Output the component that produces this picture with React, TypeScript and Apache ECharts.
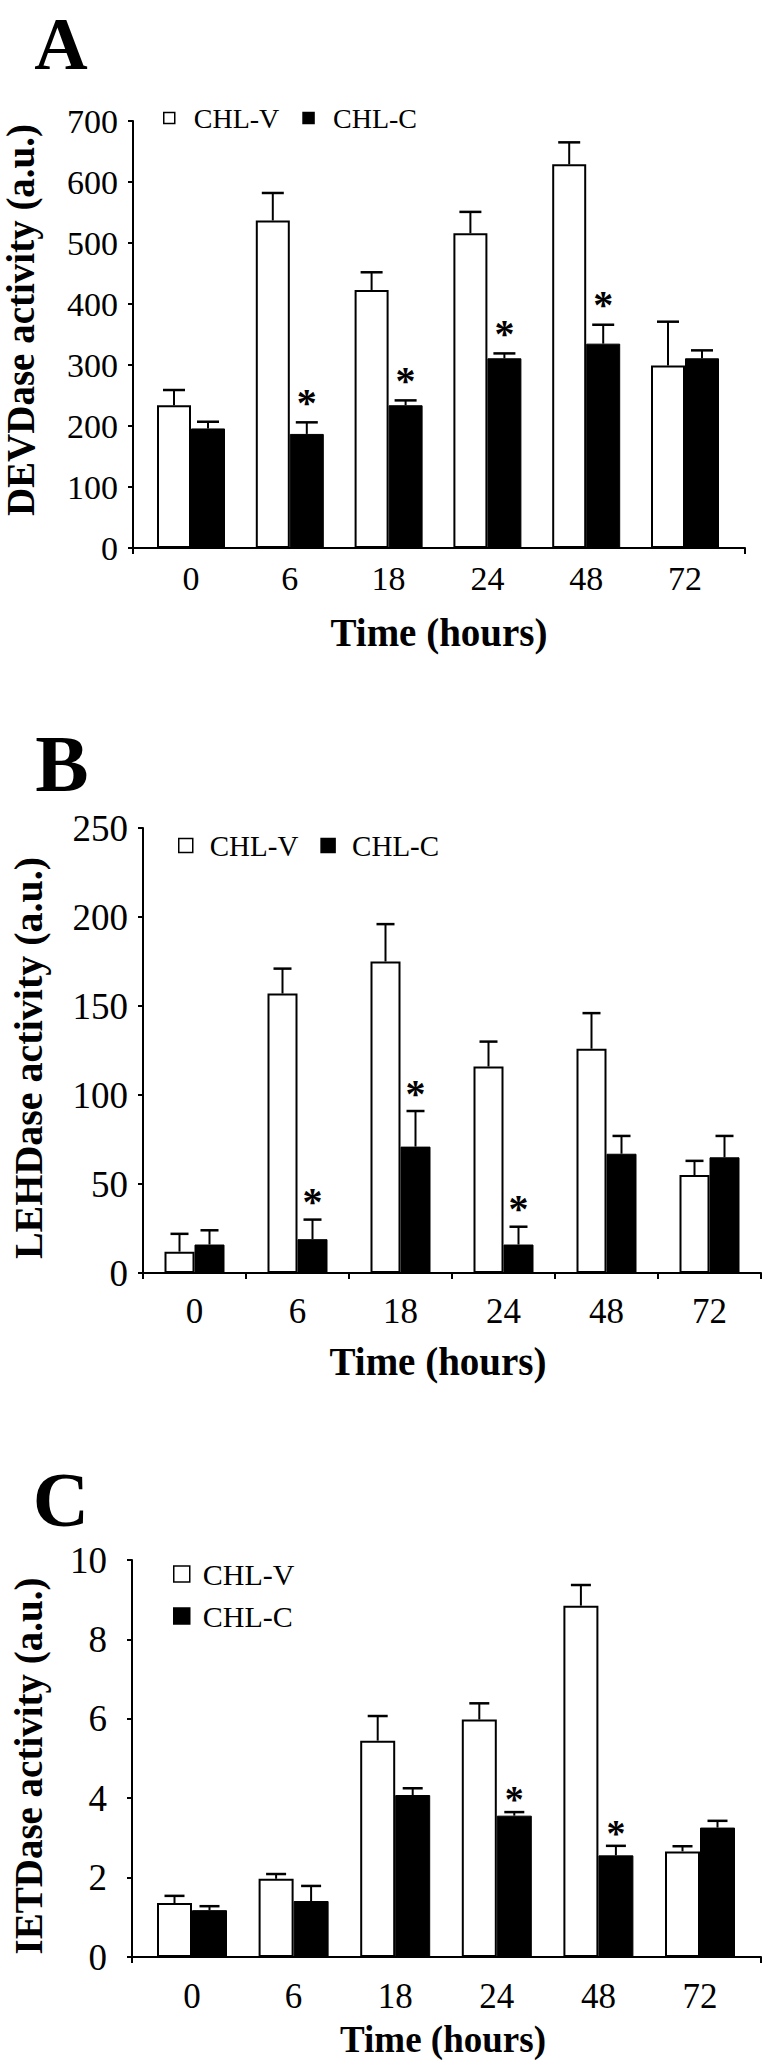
import React, { useEffect, useRef } from 'react';
import * as echarts from 'echarts';

// ---------- data ----------
const hours = ['0', '6', '18', '24', '48', '72'];
const seriesNames = ['CHL-V', 'CHL-C'];

// Panel A: DEVDase activity (a.u.)
const devdV = [234, 537, 423, 516, 629, 299];
const devdVSd = [25, 45, 29, 35, 36, 72];
const devdC = [196, 187, 234, 311, 335, 311];
const devdCSd = [11, 19, 8, 8, 31, 13];
const devdStars = [0, 1, 1, 1, 1, 0];

// Panel B: LEHDase activity (a.u.)
const lehdV = [12, 157, 175, 116, 126, 55];
const lehdVSd = [10, 14, 21, 14, 20, 8];
const lehdC = [16, 19, 71, 16, 67, 65];
const lehdCSd = [8, 11, 20, 10, 10, 12];
const lehdStars = [0, 1, 1, 1, 0, 0];

// Panel C: IETDase activity (a.u.)
const ietdV = [1.36, 1.97, 5.45, 5.98, 8.85, 2.66];
const ietdVSd = [0.18, 0.12, 0.62, 0.41, 0.52, 0.13];
const ietdC = [1.18, 1.41, 4.08, 3.56, 2.56, 3.26];
const ietdCSd = [0.1, 0.38, 0.17, 0.09, 0.24, 0.17];
const ietdStars = [0, 0, 0, 1, 1, 0];

// ---------- layout / style ----------
const FONT = "'Liberation Serif', 'Times New Roman', Times, serif";

const panels = [
  {
    letter: 'A', letterX: 61, letterY: 44, letterFont: 74,
    yTitle: 'DEVDase activity (a.u.)', yTitleX: 20, yTitleY: 320, yTitleFont: 39,
    xTitle: 'Time (hours)', xTitleX: 439, xTitleY: 632, xTitleFont: 39,
    axisGrid: { left: 133, top: 121, width: 612, height: 427 },
    dataGrid: { left: 141.6, top: 121, width: 592.8, height: 427 },
    axisTicks: [''],
    yMax: 700, yInterval: 100,
    yFont: 34, yMargin: 15, yShift: 10, xFont: 34, xMargin: 17,
    barWidth: 34, cap: 22, starFont: 40, starGap: 25,
    legend: { left: 163, top: 104, orient: 'horizontal', icon: 11, font: 28, pad: 14, gap: 23 },
    v: devdV, vSd: devdVSd, c: devdC, cSd: devdCSd, stars: devdStars,
  },
  {
    letter: 'B', letterX: 62, letterY: 764, letterFont: 80,
    yTitle: 'LEHDase activity (a.u.)', yTitleX: 28, yTitleY: 1058, yTitleFont: 40,
    xTitle: 'Time (hours)', xTitleX: 438, xTitleY: 1361, xTitleFont: 39,
    axisGrid: { left: 143, top: 828, width: 618, height: 445 },
    dataGrid: { left: 143, top: 828, width: 618, height: 445 },
    axisTicks: hours,
    yMax: 250, yInterval: 50,
    yFont: 37, yMargin: 15, yShift: 10, xFont: 35, xMargin: 25,
    barWidth: 30, cap: 18, starFont: 40, starGap: 23,
    legend: { left: 178, top: 831, orient: 'horizontal', icon: 14, font: 29, pad: 12, gap: 22 },
    v: lehdV, vSd: lehdVSd, c: lehdC, cSd: lehdCSd, stars: lehdStars,
  },
  {
    letter: 'C', letterX: 61, letterY: 1499, letterFont: 78,
    yTitle: 'IETDase activity (a.u.)', yTitleX: 28, yTitleY: 1766, yTitleFont: 39,
    xTitle: 'Time (hours)', xTitleX: 443, xTitleY: 2039, xTitleFont: 37,
    axisGrid: { left: 132, top: 1560, width: 629, height: 397 },
    dataGrid: { left: 141.2, top: 1560, width: 609.6, height: 397 },
    axisTicks: [''],
    yMax: 10, yInterval: 2,
    yFont: 37, yMargin: 25, yShift: 5, xFont: 35, xMargin: 26,
    barWidth: 35, cap: 20, starFont: 38, starGap: 18,
    legend: { left: 173, top: 1559, orient: 'vertical', icon: 16, font: 30, pad: 8, gap: 12 },
    v: ietdV, vSd: ietdVSd, c: ietdC, cSd: ietdCSd, stars: ietdStars,
  },
];

function buildOption() {
  const grid: any[] = [];
  const xAxis: any[] = [];
  const yAxis: any[] = [];
  const series: any[] = [];
  const legend: any[] = [];
  const graphic: any[] = [];

  panels.forEach((p, k) => {
    const gA = 2 * k;
    const gD = 2 * k + 1;
    grid.push({ ...p.axisGrid, containLabel: false });
    grid.push({ ...p.dataGrid, containLabel: false });

    // visible axes (lines, ticks, y labels)
    xAxis.push({
      gridIndex: gA,
      type: 'category',
      data: p.axisTicks,
      boundaryGap: true,
      axisLine: { show: true, lineStyle: { color: '#000', width: 2 } },
      axisTick: { show: true, inside: false, length: 6, lineStyle: { color: '#000', width: 2 } },
      axisLabel: { show: false },
      splitLine: { show: false },
    });
    yAxis.push({
      gridIndex: gA,
      type: 'value',
      min: 0,
      max: p.yMax,
      interval: p.yInterval,
      axisLine: { show: true, lineStyle: { color: '#000', width: 2 } },
      axisTick: { show: true, inside: false, length: 5, lineStyle: { color: '#000', width: 2 } },
      axisLabel: {
        show: true,
        color: '#000',
        fontFamily: FONT,
        fontSize: p.yFont,
        margin: p.yMargin,
        padding: [p.yShift * 2, 0, 0, 0],
      },
      splitLine: { show: false },
    });
    // data axes (bars, category labels)
    xAxis.push({
      gridIndex: gD,
      type: 'category',
      data: hours,
      boundaryGap: true,
      axisLine: { show: false },
      axisTick: { show: false },
      axisLabel: {
        show: true,
        color: '#000',
        fontFamily: FONT,
        fontSize: p.xFont,
        lineHeight: 26,
        margin: p.xMargin,
        interval: 0,
      },
      splitLine: { show: false },
    });
    yAxis.push({
      gridIndex: gD,
      type: 'value',
      min: 0,
      max: p.yMax,
      interval: p.yInterval,
      show: false,
      splitLine: { show: false },
    });

    series.push({
      type: 'bar',
      name: seriesNames[0],
      xAxisIndex: gD,
      yAxisIndex: gD,
      data: p.v,
      barWidth: p.barWidth,
      barGap: '0%',
      itemStyle: { color: '#fff', borderColor: '#000', borderWidth: 2 },
      z: 2,
    });
    series.push({
      type: 'bar',
      name: seriesNames[1],
      xAxisIndex: gD,
      yAxisIndex: gD,
      data: p.c,
      barWidth: p.barWidth,
      barGap: '0%',
      itemStyle: { color: '#000', borderColor: '#000', borderWidth: 1 },
      z: 2,
    });

    const makeErr = (vals: number[], sds: number[], stars: number[] | null, side: number, nm: string) => ({
      type: 'custom',
      name: nm,
      xAxisIndex: gD,
      yAxisIndex: gD,
      z: 5,
      silent: true,
      data: vals.map((v, i) => [i, v, sds[i], stars ? stars[i] : 0]),
      renderItem: (params: any, api: any) => {
        const i = api.value(0);
        const v = api.value(1);
        const sd = api.value(2);
        const base = api.coord([i, v]);
        const top = api.coord([i, v + sd]);
        const x = base[0] + (side * p.barWidth) / 2;
        const children: any[] = [
          { type: 'line', shape: { x1: x, y1: base[1], x2: x, y2: top[1] }, style: { stroke: '#000', lineWidth: 2 } },
          {
            type: 'line',
            shape: { x1: x - p.cap / 2, y1: top[1], x2: x + p.cap / 2, y2: top[1] },
            style: { stroke: '#000', lineWidth: 2.5 },
          },
        ];
        if (api.value(3)) {
          children.push({
            type: 'text',
            x: x,
            y: top[1] - p.starGap + p.starFont * 0.13,
            style: {
              text: '*',
              fontFamily: FONT,
              fontSize: p.starFont,
              lineHeight: 24,
              fontWeight: 'bold',
              fill: '#000',
              align: 'center',
              verticalAlign: 'middle',
            },
          });
        }
        return { type: 'group', children };
      },
    });
    series.push(makeErr(p.v, p.vSd, null, -1, 'CHL-V SD ' + p.letter));
    series.push(makeErr(p.c, p.cSd, p.stars, 1, 'CHL-C SD ' + p.letter));

    legend.push({
      left: p.legend.left,
      top: p.legend.top,
      orient: p.legend.orient,
      padding: 0,
      itemWidth: p.legend.icon,
      itemHeight: p.legend.icon,
      itemGap: p.legend.gap,
      icon: 'rect',
      selectedMode: false,
      textStyle: { fontFamily: FONT, fontSize: p.legend.font, color: '#000', padding: [0, 0, 0, p.legend.pad] },
      data: [
        { name: seriesNames[0], itemStyle: { color: '#fff', borderColor: '#000', borderWidth: 1.5 } },
        { name: seriesNames[1], itemStyle: { color: '#000', borderColor: '#000', borderWidth: 1.5 } },
      ],
    });

    graphic.push({
      type: 'text',
      x: p.letterX,
      y: p.letterY,
      style: {
        text: p.letter,
        fontFamily: FONT,
        fontSize: p.letterFont,
        lineHeight: 60,
        fontWeight: 'bold',
        fill: '#000',
        align: 'center',
        verticalAlign: 'middle',
      },
    });
    graphic.push({
      type: 'text',
      x: p.yTitleX,
      y: p.yTitleY,
      rotation: Math.PI / 2,
      style: {
        text: p.yTitle,
        fontFamily: FONT,
        fontSize: p.yTitleFont,
        lineHeight: 32,
        fontWeight: 'bold',
        fill: '#000',
        align: 'center',
        verticalAlign: 'middle',
      },
    });
    graphic.push({
      type: 'text',
      x: p.xTitleX,
      y: p.xTitleY,
      style: {
        text: p.xTitle,
        fontFamily: FONT,
        fontSize: p.xTitleFont,
        lineHeight: 30,
        fontWeight: 'bold',
        fill: '#000',
        align: 'center',
        verticalAlign: 'middle',
      },
    });
  });

  return {
    animation: false,
    backgroundColor: '#fff',
    grid,
    xAxis,
    yAxis,
    series,
    legend,
    graphic,
  };
}

export default function App() {
  const ref = useRef<HTMLDivElement>(null);
  useEffect(() => {
    if (!ref.current) return;
    const chart = echarts.init(ref.current, null, { renderer: 'svg' });
    chart.setOption(buildOption() as any);
    return () => chart.dispose();
  }, []);
  return (
    <div
      ref={ref}
      style={{ position: 'absolute', left: 0, top: 0, width: 765, height: 2061, background: '#fff' }}
    />
  );
}
